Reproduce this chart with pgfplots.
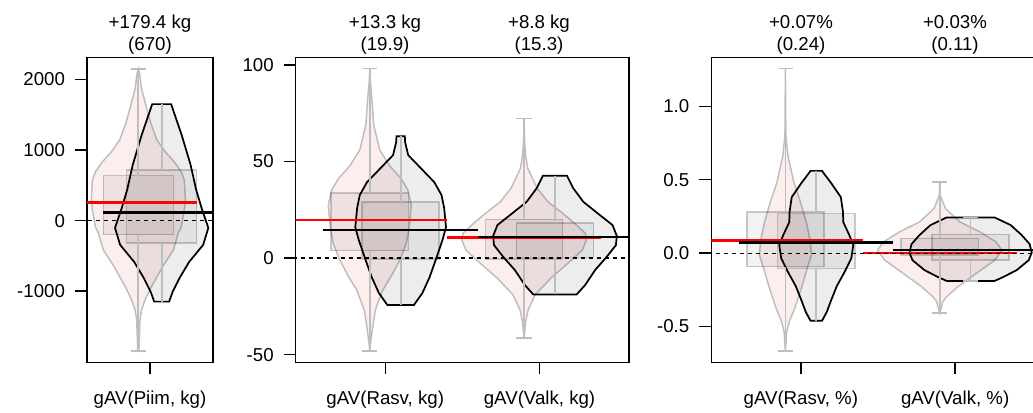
\documentclass[border=0pt]{standalone}
\usepackage{fontspec}
\setmainfont{Liberation Sans}
\usepackage{pgfplots}
\pgfplotsset{compat=1.18}
\definecolor{pinkfill}{RGB}{253,238,238}
\definecolor{vgrey}{RGB}{190,190,190}
\pgfplotsset{
  vb/.style={scale only axis, height=228.75pt, anchor=south west, tick pos=left, tick align=outside,
    major tick length=9pt, axis line style={line width=1pt}, tick style={black, line width=1pt},
    ticklabel style={font=\fontsize{14}{16}\selectfont}, yticklabel style={xshift=-4pt},
    xticklabel style={yshift=-9pt}},
  pv/.style={fill=pinkfill, draw=vgrey, line width=1.1pt},
  gv/.style={fill=black, fill opacity=0.07, draw=black, line width=1.3pt},
  bx/.style={draw=black, draw opacity=0.2, fill=black, fill opacity=0.05, line width=1.1pt},
  wk/.style={draw=vgrey, line width=1.3pt},
  rl/.style={red, line width=2.2pt},
  bl/.style={black, line width=1.9pt},
  zl/.style={black, line width=0.9pt, dash pattern=on 3pt off 3pt},
}
\begin{document}
\begin{tikzpicture}
\path (0,0) rectangle (774.75pt,309pt);
% ---------------- Panel 1
\begin{axis}[vb, at={(65.25pt,37.275pt)}, width=94.5pt, xmin=0.46, xmax=1.54, ymin=-2009, ymax=2315,
  xtick={1}, xticklabels={gAV(Piim{,} kg)}, ytick={-1000,0,1000,2000}, yticklabels={-1000,0,1000,2000}]
\addplot[pv] coordinates {(0.900,2152)(0.913,2067)(0.926,1882)(0.964,1641)(1.003,1400)(1.059,1145)(1.131,975)(1.208,833)(1.268,691)(1.294,578)(1.303,294)(1.294,152)(1.268,-89)(1.243,-174)(1.200,-416)(1.106,-657)(1.011,-941)(0.957,-1125)(0.928,-1267)(0.914,-1409)(0.905,-1835)(0.900,-1849)
(0.895,-1835)(0.886,-1409)(0.872,-1267)(0.843,-1125)(0.789,-941)(0.694,-657)(0.600,-416)(0.557,-174)(0.532,-89)(0.506,152)(0.497,294)(0.506,578)(0.532,691)(0.592,833)(0.669,975)(0.741,1145)(0.797,1400)(0.836,1641)(0.874,1882)(0.887,2067)} -- cycle;
\addplot[gv] coordinates {(1.181,1651)(1.271,1216)(1.348,790)(1.396,435)(1.447,152)(1.500,-103)(1.456,-344)(1.336,-585)(1.254,-812)(1.194,-1011)(1.164,-1149)
(1.036,-1149)(1.006,-1011)(0.946,-812)(0.864,-585)(0.744,-344)(0.700,-103)(0.753,152)(0.804,435)(0.852,790)(0.929,1216)(1.019,1651)} -- cycle;
\addplot[bx] coordinates {(0.6,-200)(1.2,-200)(1.2,638)(0.6,638)} -- cycle;
\addplot[bx] coordinates {(0.8,-321)(1.4,-321)(1.4,719)(0.8,719)} -- cycle;
\addplot[wk] coordinates {(0.9,638)(0.9,2152)};
\addplot[wk] coordinates {(0.9,-200)(0.9,-1849)};
\addplot[wk] coordinates {(0.836,2152)(0.964,2152)};
\addplot[wk] coordinates {(0.836,-1849)(0.964,-1849)};
\addplot[wk] coordinates {(1.1,719)(1.1,1651)};
\addplot[wk] coordinates {(1.1,-321)(1.1,-1149)};
\addplot[rl] coordinates {(0.4,255)(1.4,255)};
\addplot[bl] coordinates {(0.6,115)(1.6,115)};
\addplot[zl] coordinates {(0.4,0)(1.6,0)};
\end{axis}
% ---------------- Panel 2
\begin{axis}[vb, at={(221.78pt,37.275pt)}, width=250pt, xmin=0.42, xmax=2.58, ymin=-53.95, ymax=103.95,
  xtick={1,2}, xticklabels={gAV(Rasv{,} kg),gAV(Valk{,} kg)}, ytick={-50,0,50,100}, yticklabels={-50,0,50,100}]
\addplot[pv] coordinates {(0.900,98.1)(0.903,92)(0.910,86)(0.926,68.8)(0.965,55.9)(1.030,47.6)(1.101,41.4)(1.147,35.2)(1.169,27.4)(1.156,16.0)(1.137,7.8)(1.095,-1.0)(1.036,-9.8)(0.984,-16.6)(0.936,-26.9)(0.919,-35.7)(0.905,-44.0)(0.900,-48.1)
(0.895,-44.0)(0.881,-35.7)(0.864,-26.9)(0.816,-16.6)(0.764,-9.8)(0.705,-1.0)(0.663,7.8)(0.644,16.0)(0.631,27.4)(0.653,35.2)(0.699,41.4)(0.770,47.6)(0.835,55.9)(0.874,68.8)(0.890,86)(0.897,92)} -- cycle;
\addplot[pv] coordinates {(1.900,72.3)(1.903,61.0)(1.910,53.3)(1.923,46.6)(1.984,36.2)(2.056,29.0)(2.140,23.8)(2.225,18.1)(2.296,12.9)(2.303,9.3)(2.277,4.1)(2.192,-2.1)(2.075,-10.3)(1.971,-19.1)(1.926,-26.9)(1.910,-33.1)(1.900,-41.2)
(1.890,-33.1)(1.874,-26.9)(1.829,-19.1)(1.725,-10.3)(1.608,-2.1)(1.523,4.1)(1.497,9.3)(1.504,12.9)(1.575,18.1)(1.660,23.8)(1.744,29.0)(1.816,36.2)(1.877,46.6)(1.890,53.3)(1.897,61.0)} -- cycle;
\addplot[gv] coordinates {(1.127,63.1)(1.129,60.0)(1.149,53.3)(1.230,46.6)(1.318,39.3)(1.365,32.6)(1.382,25.9)(1.394,16.0)(1.371,9.3)(1.327,-1.0)(1.288,-9.8)(1.241,-18.1)(1.186,-24.3)
(1.014,-24.3)(0.959,-18.1)(0.912,-9.8)(0.873,-1.0)(0.829,9.3)(0.806,16.0)(0.818,25.9)(0.835,32.6)(0.882,39.3)(0.970,46.6)(1.051,53.3)(1.071,60.0)(1.073,63.1)} -- cycle;
\addplot[gv] coordinates {(2.178,42.6)(2.219,36.1)(2.284,29.1)(2.392,22.2)(2.473,17.1)(2.501,11.4)(2.495,6.7)(2.434,0.5)(2.360,-6.2)(2.295,-14.0)(2.241,-18.8)
(1.959,-18.8)(1.905,-14.0)(1.840,-6.2)(1.766,0.5)(1.705,6.7)(1.699,11.4)(1.727,17.1)(1.808,22.2)(1.916,29.1)(1.981,36.1)(2.022,42.6)} -- cycle;
\addplot[bx] coordinates {(0.65,3.8)(1.15,3.8)(1.15,33.8)(0.65,33.8)} -- cycle;
\addplot[bx] coordinates {(0.85,-0.5)(1.35,-0.5)(1.35,29.1)(0.85,29.1)} -- cycle;
\addplot[bx] coordinates {(1.65,-0.5)(2.15,-0.5)(2.15,20.1)(1.65,20.1)} -- cycle;
\addplot[bx] coordinates {(1.85,0.4)(2.35,0.4)(2.35,18.1)(1.85,18.1)} -- cycle;
\addplot[wk] coordinates {(0.9,33.8)(0.9,98.1)};
\addplot[wk] coordinates {(0.9,3.8)(0.9,-48.1)};
\addplot[wk] coordinates {(0.85,98.1)(0.95,98.1)};
\addplot[wk] coordinates {(0.85,-48.1)(0.95,-48.1)};
\addplot[wk] coordinates {(1.1,29.1)(1.1,63.1)};
\addplot[wk] coordinates {(1.1,-0.5)(1.1,-24.3)};
\addplot[wk] coordinates {(1.9,20.1)(1.9,72.3)};
\addplot[wk] coordinates {(1.9,-0.5)(1.9,-41.2)};
\addplot[wk] coordinates {(1.85,72.3)(1.95,72.3)};
\addplot[wk] coordinates {(1.85,-41.2)(1.95,-41.2)};
\addplot[wk] coordinates {(2.1,18.1)(2.1,42.6)};
\addplot[wk] coordinates {(2.1,0.4)(2.1,-18.8)};
\addplot[rl] coordinates {(0.4,19.7)(1.4,19.7)};
\addplot[bl] coordinates {(0.6,14.6)(1.6,14.6)};
\addplot[rl] coordinates {(1.4,10.7)(2.4,10.7)};
\addplot[bl] coordinates {(1.6,10.8)(2.6,10.8)};
\addplot[zl] coordinates {(0.4,0)(2.6,0)};
\end{axis}
% ---------------- Panel 3 (runs past the right edge of the picture)
\begin{scope}[overlay]
\begin{axis}[vb, at={(533.5pt,37.275pt)}, width=250pt, xmin=0.42, xmax=2.58, ymin=-0.745, ymax=1.336,
  xtick={1,2}, xticklabels={gAV(Rasv{,} \%),gAV(Valk{,} \%)}, ytick={-0.5,0,0.5,1}, yticklabels={-0.5,0.0,0.5,1.0}]
\addplot[pv] coordinates {(0.900,1.259)(0.903,0.805)(0.916,0.668)(0.954,0.486)(0.997,0.350)(1.035,0.213)(1.062,0.077)(1.068,-0.014)(1.041,-0.104)(1.003,-0.241)(0.960,-0.377)(0.925,-0.468)(0.908,-0.537)(0.903,-0.627)(0.900,-0.668)
(0.897,-0.627)(0.892,-0.537)(0.875,-0.468)(0.840,-0.377)(0.797,-0.241)(0.759,-0.104)(0.732,-0.014)(0.738,0.077)(0.765,0.213)(0.803,0.350)(0.846,0.486)(0.884,0.668)(0.897,0.805)} -- cycle;
\addplot[pv] coordinates {(1.900,0.486)(1.903,0.395)(1.936,0.305)(2.030,0.213)(2.160,0.145)(2.264,0.077)(2.303,0.020)(2.257,-0.048)(2.140,-0.136)(2.017,-0.230)(1.942,-0.300)(1.919,-0.334)(1.903,-0.400)(1.900,-0.411)
(1.897,-0.400)(1.881,-0.334)(1.858,-0.300)(1.783,-0.230)(1.660,-0.136)(1.543,-0.048)(1.497,0.020)(1.536,0.077)(1.640,0.145)(1.770,0.213)(1.864,0.305)(1.897,0.395)} -- cycle;
\addplot[gv] coordinates {(1.137,0.561)(1.197,0.477)(1.259,0.382)(1.273,0.282)(1.275,0.211)(1.314,0.123)(1.340,0.055)(1.327,-0.036)(1.284,-0.128)(1.233,-0.225)(1.197,-0.320)(1.168,-0.402)(1.137,-0.462)
(1.063,-0.462)(1.032,-0.402)(1.003,-0.320)(0.967,-0.225)(0.916,-0.128)(0.873,-0.036)(0.860,0.055)(0.886,0.123)(0.925,0.211)(0.927,0.282)(0.941,0.382)(1.003,0.477)(1.063,0.561)} -- cycle;
\addplot[gv] coordinates {(2.256,0.243)(2.360,0.191)(2.431,0.123)(2.483,0.061)(2.496,0.003)(2.477,-0.048)(2.399,-0.116)(2.314,-0.162)(2.253,-0.191)
(1.947,-0.191)(1.886,-0.162)(1.801,-0.116)(1.723,-0.048)(1.704,0.003)(1.717,0.061)(1.769,0.123)(1.840,0.191)(1.944,0.243)} -- cycle;
\addplot[bx] coordinates {(0.65,-0.093)(1.15,-0.093)(1.15,0.282)(0.65,0.282)} -- cycle;
\addplot[bx] coordinates {(0.85,-0.104)(1.35,-0.104)(1.35,0.270)(0.85,0.270)} -- cycle;
\addplot[bx] coordinates {(1.65,-0.014)(2.15,-0.014)(2.15,0.100)(1.65,0.100)} -- cycle;
\addplot[bx] coordinates {(1.85,-0.048)(2.35,-0.048)(2.35,0.128)(1.85,0.128)} -- cycle;
\addplot[wk] coordinates {(0.9,0.282)(0.9,1.259)};
\addplot[wk] coordinates {(0.9,-0.093)(0.9,-0.668)};
\addplot[wk] coordinates {(0.85,1.259)(0.95,1.259)};
\addplot[wk] coordinates {(0.85,-0.668)(0.95,-0.668)};
\addplot[wk] coordinates {(1.1,0.270)(1.1,0.561)};
\addplot[wk] coordinates {(1.1,-0.104)(1.1,-0.462)};
\addplot[wk] coordinates {(1.9,0.100)(1.9,0.486)};
\addplot[wk] coordinates {(1.9,-0.014)(1.9,-0.411)};
\addplot[wk] coordinates {(1.85,0.486)(1.95,0.486)};
\addplot[wk] coordinates {(1.85,-0.411)(1.95,-0.411)};
\addplot[wk] coordinates {(2.1,0.128)(2.1,0.243)};
\addplot[wk] coordinates {(2.1,-0.048)(2.1,-0.191)};
\addplot[wk] coordinates {(2.05,0.243)(2.15,0.243)};
\addplot[wk] coordinates {(2.05,-0.191)(2.15,-0.191)};
\addplot[rl] coordinates {(0.4,0.084)(1.4,0.084)};
\addplot[bl] coordinates {(0.6,0.072)(1.6,0.072)};
\addplot[red, line width=1.6pt] coordinates {(1.4,-0.002)(2.4,-0.002)};
\addplot[bl] coordinates {(1.6,0.020)(2.6,0.020)};
\addplot[zl] coordinates {(0.4,0)(2.6,0)};
\end{axis}
\end{scope}
% ---------------- titles
\begin{scope}[every node/.style={font=\fontsize{14}{16}\selectfont, anchor=base, inner sep=0pt}]
\node at (112.5pt,287.8pt) {+179.4 kg};
\node at (112.5pt,271pt) {(670)};
\node at (288.75pt,287.8pt) {+13.3 kg};
\node at (288.75pt,271pt) {(19.9)};
\node at (404.25pt,287.8pt) {+8.8 kg};
\node at (404.25pt,271pt) {(15.3)};
\node at (600.75pt,287.8pt) {+0.07\%};
\node at (600.75pt,271pt) {(0.24)};
\node at (716.25pt,287.8pt) {+0.03\%};
\node at (716.25pt,271pt) {(0.11)};
\end{scope}
\end{tikzpicture}
\end{document}
